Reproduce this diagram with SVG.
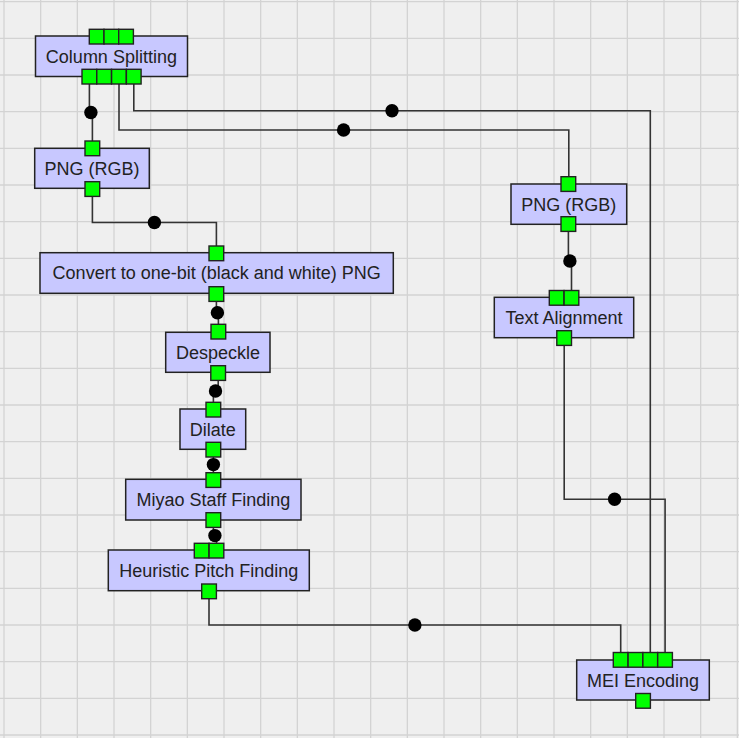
<svg xmlns="http://www.w3.org/2000/svg" width="739" height="738" viewBox="0 0 739 738">
<style>
.bg{fill:#efefef}
.grid{stroke:#d3d3d3;stroke-width:1.3;fill:none}
.box{fill:#c8c8ff;stroke:#222;stroke-width:1.5}
.port{fill:#00ff00;stroke:#222;stroke-width:1.4}
.wire{fill:none;stroke:#333;stroke-width:1.6}
.dot{fill:#000}
text{font-family:"Liberation Sans",Arial,sans-serif;font-size:18px;fill:#222;text-anchor:middle}
</style>
<rect class="bg" x="0" y="0" width="739" height="738"/>
<path class="grid" d="M4 0V738M40.67 0V738M77.33 0V738M114 0V738M150.67 0V738M187.33 0V738M224 0V738M260.67 0V738M297.33 0V738M334 0V738M370.67 0V738M407.33 0V738M444 0V738M480.67 0V738M517.33 0V738M554 0V738M590.67 0V738M627.33 0V738M664 0V738M700.67 0V738M737.33 0V738M0 1.67H739M0 38.33H739M0 75H739M0 111.67H739M0 148.33H739M0 185H739M0 221.67H739M0 258.33H739M0 295H739M0 331.67H739M0 368.33H739M0 405H739M0 441.67H739M0 478.33H739M0 515H739M0 551.67H739M0 588.33H739M0 625H739M0 661.67H739M0 698.33H739M0 735H739"/>
<g id="connectors">
<path class="wire" d="M89.4 84V112.5H92.4V141"/><circle class="dot" cx="90.9" cy="112.5" r="6.7"/>
<path class="wire" d="M119 84V130H568.8V176.7"/><circle class="dot" cx="343.6" cy="130" r="6.7"/>
<path class="wire" d="M133.8 84V110.7H650.3V652.5"/><circle class="dot" cx="392" cy="110.7" r="6.7"/>
<path class="wire" d="M92.4 196.4V222.5H216.4V246"/><circle class="dot" cx="154.4" cy="222.5" r="6.7"/>
<path class="wire" d="M216.4 301.3V312.8H218.4V324.3"/><circle class="dot" cx="217.4" cy="312.8" r="6.7"/>
<path class="wire" d="M218.2 380.4V391H213.4V402.3"/><circle class="dot" cx="215.5" cy="391" r="6.7"/>
<path class="wire" d="M213.4 457V472.7"/><circle class="dot" cx="213.4" cy="464.6" r="6.7"/>
<path class="wire" d="M213.4 527.4V535.6H216.5V543.3"/><circle class="dot" cx="214.9" cy="535.6" r="6.7"/>
<path class="wire" d="M209 598.7V625H620.7V652.5"/><circle class="dot" cx="414.9" cy="625" r="6.7"/>
<path class="wire" d="M568.4 231.4V261H571.5V290.5"/><circle class="dot" cx="569.9" cy="261" r="6.7"/>
<path class="wire" d="M564.2 345.4V499.3H665.1V652.5"/><circle class="dot" cx="614.6" cy="499.3" r="6.7"/>
</g>
<g id="column-splitting">
<rect class="box" x="35.5" y="36" width="152" height="40.5"/>
<rect class="port" x="89.3" y="29.3" width="14.7" height="14.7"/>
<rect class="port" x="104" y="29.3" width="14.7" height="14.7"/>
<rect class="port" x="118.7" y="29.3" width="14.7" height="14.7"/>
<rect class="port" x="82" y="69.3" width="14.7" height="14.7"/>
<rect class="port" x="96.8" y="69.3" width="14.7" height="14.7"/>
<rect class="port" x="111.6" y="69.3" width="14.7" height="14.7"/>
<rect class="port" x="126.4" y="69.3" width="14.7" height="14.7"/>
<text x="111.4" y="62.8">Column Splitting</text>
</g>
<g id="png-rgb-left">
<rect class="box" x="34.7" y="148.3" width="114.6" height="40"/>
<rect class="port" x="85" y="141" width="14.7" height="14.7"/>
<rect class="port" x="85" y="181.7" width="14.7" height="14.7"/>
<text x="92" y="174.8">PNG (RGB)</text>
</g>
<g id="convert">
<rect class="box" x="40" y="252.7" width="353.3" height="40.6"/>
<rect class="port" x="209" y="246" width="14.7" height="14.7"/>
<rect class="port" x="209" y="286.7" width="14.7" height="14.7"/>
<text x="216.7" y="279.3">Convert to one-bit (black and white) PNG</text>
</g>
<g id="despeckle">
<rect class="box" x="165.7" y="332.3" width="104.3" height="40"/>
<rect class="port" x="211" y="324.3" width="14.7" height="14.7"/>
<rect class="port" x="210.8" y="365.7" width="14.7" height="14.7"/>
<text x="218" y="358.8">Despeckle</text>
</g>
<g id="dilate">
<rect class="box" x="180" y="409" width="65.7" height="40.3"/>
<rect class="port" x="206" y="402.3" width="14.7" height="14.7"/>
<rect class="port" x="206" y="442.3" width="14.7" height="14.7"/>
<text x="212.8" y="435.6">Dilate</text>
</g>
<g id="miyao">
<rect class="box" x="125.7" y="479.3" width="175.3" height="40.7"/>
<rect class="port" x="206" y="472.7" width="14.7" height="14.7"/>
<rect class="port" x="206" y="512.7" width="14.7" height="14.7"/>
<text x="213.3" y="506">Miyao Staff Finding</text>
</g>
<g id="heuristic">
<rect class="box" x="108.3" y="550" width="201" height="40.7"/>
<rect class="port" x="194.3" y="543.3" width="14.7" height="14.7"/>
<rect class="port" x="209.1" y="543.3" width="14.7" height="14.7"/>
<rect class="port" x="201.7" y="584" width="14.7" height="14.7"/>
<text x="208.8" y="576.8">Heuristic Pitch Finding</text>
</g>
<g id="png-rgb-right">
<rect class="box" x="511" y="184" width="115.7" height="40.3"/>
<rect class="port" x="561" y="176.7" width="14.7" height="14.7"/>
<rect class="port" x="561" y="216.7" width="14.7" height="14.7"/>
<text x="568.8" y="210.6">PNG (RGB)</text>
</g>
<g id="text-alignment">
<rect class="box" x="494.3" y="297.3" width="139.4" height="40.4"/>
<rect class="port" x="549.3" y="290.5" width="14.7" height="14.7"/>
<rect class="port" x="564.1" y="290.5" width="14.7" height="14.7"/>
<rect class="port" x="556.8" y="330.7" width="14.7" height="14.7"/>
<text x="564" y="324">Text Alignment</text>
</g>
<g id="mei-encoding">
<rect class="box" x="576.7" y="660" width="132.6" height="40"/>
<rect class="port" x="613.3" y="652.5" width="14.7" height="14.7"/>
<rect class="port" x="628.1" y="652.5" width="14.7" height="14.7"/>
<rect class="port" x="642.9" y="652.5" width="14.7" height="14.7"/>
<rect class="port" x="657.7" y="652.5" width="14.7" height="14.7"/>
<rect class="port" x="635.7" y="693.5" width="14.7" height="14.7"/>
<text x="643" y="686.5">MEI Encoding</text>
</g>
</svg>
